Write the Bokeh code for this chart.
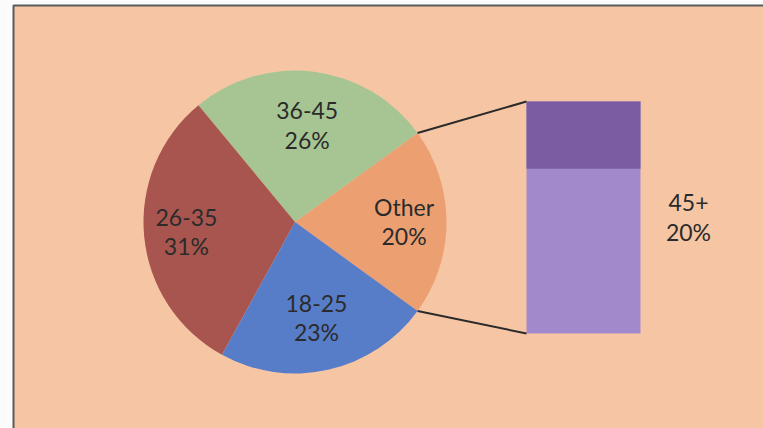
import math
from bokeh.plotting import figure
from bokeh.models import ColumnDataSource, Range1d
from bokeh.core.properties import value
from bokeh.embed import file_html
from bokeh.resources import INLINE

# ---- data -------------------------------------------------------------
age_groups = ["Other", "36-45", "26-35", "18-25"]
shares = [20, 26, 31, 23]                 # percent of respondents
bar_groups = ["45+"]
bar_shares = [20]                         # breakdown of "Other"

# ---- styling / layout --------------------------------------------------
W, H = 763, 428
BG = "#f6c6a4"
slice_colors = ["#eca072", "#a6c593", "#a8554f", "#577dc8"]
label_radius = [0.72, 0.64, 0.72, 0.65]   # label distance as fraction of radius
CX, CY, R = 294.5, 206.5, 151.5           # pie centre / radius (screen units)
BAR_X, BAR_W, BAR_BOTTOM, BAR_FULL = 583, 114, 95, 232
BAR_CAP_FRACTION = 0.29
FONT = value("Lato")
FONT_SIZE = "23px"
TEXT_COLOR = "#2b2b2b"

p = figure(width=W, height=H, x_range=Range1d(0, W), y_range=Range1d(0, H),
           min_border=0, toolbar_location=None, output_backend="svg")
p.axis.visible = False
p.grid.visible = False
p.outline_line_color = None
p.background_fill_color = "#fbfbfb"
p.border_fill_color = "#fbfbfb"

# chart area with its frame
p.quad(left=13, right=W + 20, bottom=-20, top=H - 5,
       fill_color=BG, line_color="#5a5a5a", line_width=2)

# ---- pie ---------------------------------------------------------------
total = sum(shares)
start = -shares[0] / total * math.pi      # "Other" centred on the right
starts, ends, lx, ly = [], [], [], []
a = start
for s, fr in zip(shares, label_radius):
    span = s / total * 2 * math.pi
    starts.append(a)
    ends.append(a + span)
    mid = a + span / 2
    lx.append(CX + fr * R * math.cos(mid))
    ly.append(CY + fr * R * math.sin(mid))
    a += span

pie = ColumnDataSource(dict(
    start=starts, end=ends, color=slice_colors,
    lx=lx, ly=ly, name=age_groups,
    pct=[f"{s}%" for s in shares],
))
p.wedge(x=CX, y=CY, radius=R, start_angle="start", end_angle="end",
        fill_color="color", line_color=None, source=pie)
p.text(x="lx", y="ly", text="name", source=pie, y_offset=-15,
       text_align="center", text_baseline="middle",
       text_font=FONT, text_font_size=FONT_SIZE, text_color=TEXT_COLOR)
p.text(x="lx", y="ly", text="pct", source=pie, y_offset=14,
       text_align="center", text_baseline="middle",
       text_font=FONT, text_font_size=FONT_SIZE, text_color=TEXT_COLOR)

# ---- bar of "Other" ----------------------------------------------------
scale = BAR_FULL / shares[0]
bar_top = BAR_BOTTOM + bar_shares[0] * scale
p.vbar(x=BAR_X, width=BAR_W, bottom=BAR_BOTTOM, top=bar_top,
       fill_color="#a189cb", line_color=None)
p.vbar(x=BAR_X, width=BAR_W, bottom=bar_top - BAR_CAP_FRACTION * (bar_top - BAR_BOTTOM),
       top=bar_top, fill_color="#7b5ca3", line_color=None)

# connector lines from the "Other" slice edges to the bar corners
bar_left = BAR_X - BAR_W / 2
p.segment(x0=[CX + R * math.cos(ends[0]), CX + R * math.cos(starts[0])],
          y0=[CY + R * math.sin(ends[0]), CY + R * math.sin(starts[0])],
          x1=[bar_left, bar_left], y1=[bar_top, BAR_BOTTOM],
          line_color="#2a2a2a", line_width=2)

bar_mid = (BAR_BOTTOM + bar_top) / 2
p.text(x=[688], y=[bar_mid], text=bar_groups, y_offset=-15,
       text_align="center", text_baseline="middle",
       text_font=FONT, text_font_size=FONT_SIZE, text_color=TEXT_COLOR)
p.text(x=[688], y=[bar_mid], text=[f"{v}%" for v in bar_shares], y_offset=14,
       text_align="center", text_baseline="middle",
       text_font=FONT, text_font_size=FONT_SIZE, text_color=TEXT_COLOR)

open("out.html", "w").write(file_html(p, INLINE))
